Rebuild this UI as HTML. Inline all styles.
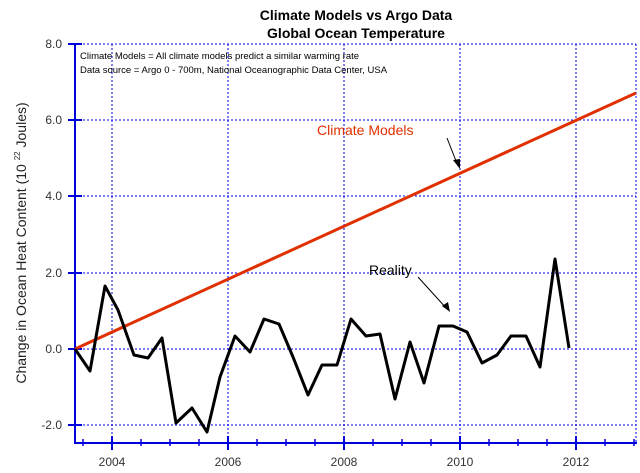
<!DOCTYPE html>
<html><head><meta charset="utf-8"><style>
html,body{margin:0;padding:0;background:#fff;}
svg{display:block;font-family:"Liberation Sans",Arial,sans-serif;}
</style></head><body>
<svg width="640" height="473" viewBox="0 0 640 473" xmlns="http://www.w3.org/2000/svg">
<rect width="640" height="473" fill="#fff"/>
<text x="356" y="20" text-anchor="middle" font-size="14" font-weight="bold">Climate Models vs Argo Data</text>
<text x="356" y="38" text-anchor="middle" font-size="14" font-weight="bold">Global Ocean Temperature</text>
<g stroke="#0000ee" stroke-width="1" stroke-dasharray="2,2" fill="none">
<line x1="75" y1="44" x2="636" y2="44"/>
<line x1="75" y1="120" x2="636" y2="120"/>
<line x1="75" y1="196" x2="636" y2="196"/>
<line x1="75" y1="273" x2="636" y2="273"/>
<line x1="75" y1="349" x2="636" y2="349"/>
<line x1="75" y1="425" x2="636" y2="425"/>
<line x1="112" y1="44" x2="112" y2="443"/>
<line x1="228" y1="44" x2="228" y2="443"/>
<line x1="344" y1="44" x2="344" y2="443"/>
<line x1="460" y1="44" x2="460" y2="443"/>
<line x1="576" y1="44" x2="576" y2="443"/>
<line x1="636" y1="44" x2="636" y2="443"/>
</g>
<g stroke="#0000dd" stroke-width="2" fill="none">
<line x1="75" y1="43" x2="75" y2="444"/>
<line x1="74" y1="443" x2="637" y2="443"/>
<line x1="68" y1="44" x2="82" y2="44"/>
<line x1="68" y1="120" x2="82" y2="120"/>
<line x1="68" y1="196" x2="82" y2="196"/>
<line x1="68" y1="273" x2="82" y2="273"/>
<line x1="68" y1="349" x2="82" y2="349"/>
<line x1="68" y1="425" x2="82" y2="425"/>
<line x1="112" y1="436" x2="112" y2="450"/>
<line x1="228" y1="436" x2="228" y2="450"/>
<line x1="344" y1="436" x2="344" y2="450"/>
<line x1="460" y1="436" x2="460" y2="450"/>
<line x1="576" y1="436" x2="576" y2="450"/>
</g>
<g stroke="#0000dd" stroke-width="1.5">
<line x1="83" y1="439" x2="83" y2="446"/>
<line x1="141" y1="439" x2="141" y2="446"/>
<line x1="170" y1="439" x2="170" y2="446"/>
<line x1="199" y1="439" x2="199" y2="446"/>
<line x1="257" y1="439" x2="257" y2="446"/>
<line x1="286" y1="439" x2="286" y2="446"/>
<line x1="315" y1="439" x2="315" y2="446"/>
<line x1="373" y1="439" x2="373" y2="446"/>
<line x1="402" y1="439" x2="402" y2="446"/>
<line x1="431" y1="439" x2="431" y2="446"/>
<line x1="489" y1="439" x2="489" y2="446"/>
<line x1="518" y1="439" x2="518" y2="446"/>
<line x1="547" y1="439" x2="547" y2="446"/>
<line x1="605" y1="439" x2="605" y2="446"/>
<line x1="634" y1="439" x2="634" y2="446"/>
</g>
<g font-size="12" fill="#333" text-anchor="end">
<text x="62" y="48">8.0</text>
<text x="62" y="124">6.0</text>
<text x="62" y="200">4.0</text>
<text x="62" y="277">2.0</text>
<text x="62" y="353">0.0</text>
<text x="62" y="429">-2.0</text>
</g>
<g font-size="12" fill="#333" text-anchor="middle">
<text x="112" y="466">2004</text>
<text x="228" y="466">2006</text>
<text x="344" y="466">2008</text>
<text x="460" y="466">2010</text>
<text x="576" y="466">2012</text>
</g>
<text transform="translate(26,243) rotate(-90)" font-size="14" fill="#222" text-anchor="middle">Change in Ocean Heat Content  (10 <tspan font-size="8" dy="-6">22</tspan><tspan dy="6"> Joules)</tspan></text>
<text x="80" y="59" font-size="9.5" fill="#000">Climate Models = All climate models predict a similar warming rate</text>
<text x="80" y="73" font-size="9.5" fill="#000">Data source = Argo 0 - 700m, National Oceanographic Data Center, USA</text>
<line x1="75" y1="349" x2="636" y2="93" stroke="#e03000" stroke-width="3"/>
<polyline fill="none" stroke="#000" stroke-width="3" stroke-linejoin="round" points="75,349 90,371 105,286 118,310 134,355 148,358 162,338 176,423 192,408 207,432 220,377 235,336 250,352 264,319 279,324 293,357 308,395 322,365 337,365 351,319 366,336 380,334 395,399 410,342 424,383 439,326 453,326 467,332 482,363 497,355 511,336 526,336 540,367 555,259 569,348"/>
<text x="317" y="135" font-size="14" fill="#e03000">Climate Models</text>
<line x1="447" y1="138" x2="458" y2="166" stroke="#000" stroke-width="1"/>
<polygon points="460,169 453,160 460,159" fill="#000"/>
<text x="369" y="275" font-size="14" fill="#000">Reality</text>
<line x1="418" y1="277" x2="447" y2="309" stroke="#000" stroke-width="1"/>
<polygon points="450,312 442,306 448,302" fill="#000"/>
</svg>
</body></html>
